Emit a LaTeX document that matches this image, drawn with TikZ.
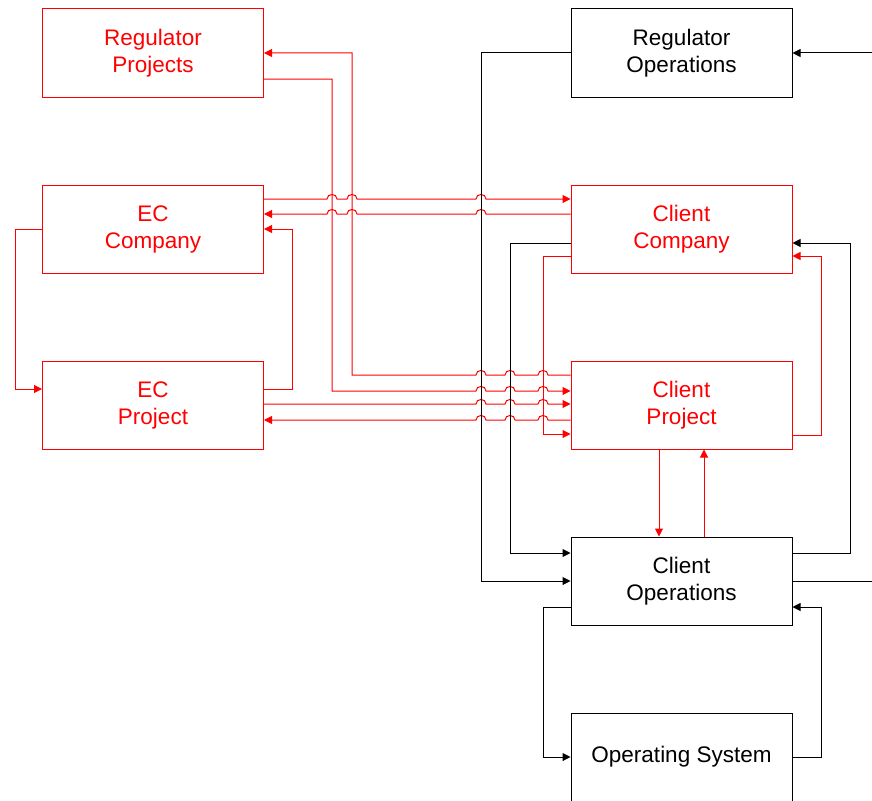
\documentclass[tikz,border=0pt]{standalone}
\usepackage{fontspec}
\setmainfont{Liberation Sans}
\usetikzlibrary{arrows.meta}
\definecolor{linkred}{RGB}{255,0,0}
% line jumps: a small arc over a crossing vertical line at x=#1, row y=#2
\newcommand\hopright[2]{-- (#1-5,#2) .. controls (#1-5,#2-6) and (#1+5,#2-6) .. (#1+5,#2)}
\newcommand\hopleft[2]{-- (#1+5,#2) .. controls (#1+5,#2-6) and (#1-5,#2-6) .. (#1-5,#2)}
\begin{document}
\begin{tikzpicture}[x=1pt,y=-1pt,
  box/.style={draw,line width=1pt,minimum width=221pt,minimum height=88pt,
    inner sep=0pt,align=center,font=\fontsize{22.5}{27}\selectfont},
  redbox/.style={box,draw=linkred,text=linkred},
  blackbox/.style={box,draw=black,text=black},
  wire/.style={line width=1pt},
  link/.style={wire,-{Triangle[length=8pt,width=8pt]}},
  redlink/.style={link,draw=linkred},
  blacklink/.style={link,draw=black}]
\useasboundingbox (0,0) rectangle (872,800);

% boxes
\node[redbox]   (rp) at (153,53)    {Regulator\\Projects};
\node[blackbox] (ro) at (681.5,53)  {Regulator\\Operations};
\node[redbox]   (ec) at (153,229)   {EC\\Company};
\node[redbox]   (cc) at (681.5,229) {Client\\Company};
\node[redbox]   (ep) at (153,405)   {EC\\Project};
\node[redbox]   (cp) at (681.5,405) {Client\\Project};
\node[blackbox] (co) at (681.5,581) {Client\\Operations};
\node[blackbox] (os) at (681.5,757) {Operating System};

\coordinate (outR) at (872,581);
\coordinate (inR)  at (872,53);

% red links
\draw[redlink] (cp.west |- 0,375) \hopleft{543}{375} \hopleft{510}{375} \hopleft{481}{375}
  -- (352,375) -- (352,53) -- (rp.east |- 0,53);
\draw[redlink] (rp.east |- 0,79) -- (332,79) -- (332,391)
  \hopright{481}{391} \hopright{510}{391} \hopright{543}{391} -- (cp.west |- 0,391);
\draw[redlink] (ec.east |- 0,199) \hopright{332}{199} \hopright{352}{199} \hopright{481}{199}
  -- (cc.west |- 0,199);
\draw[redlink] (cc.west |- 0,214) \hopleft{481}{214} \hopleft{352}{214} \hopleft{332}{214}
  -- (ec.east |- 0,214);
\draw[redlink] (ep.east |- 0,404) \hopright{481}{404} \hopright{510}{404} \hopright{543}{404}
  -- (cp.west |- 0,404);
\draw[redlink] (cp.west |- 0,420) \hopleft{543}{420} \hopleft{510}{420} \hopleft{481}{420}
  -- (ep.east |- 0,420);
\draw[redlink] (cc.west |- 0,256) -- (543,256) -- (543,434) -- (cp.west |- 0,434);
\draw[redlink] (ep.east |- 0,389) -- (292,389) -- (292,229) -- (ec.east |- 0,229);
\draw[redlink] (ec.west |- 0,229) -- (15,229) -- (15,389) -- (ep.west |- 0,389);
\draw[redlink] (cp.east |- 0,435) -- (821,435) -- (821,256) -- (cc.east |- 0,256);
\draw[redlink] (cp.south -| 659,0) -- (co.north -| 659,0);
\draw[redlink] (co.north -| 704,0) -- (cp.south -| 704,0);

% black links
\draw[blacklink] (ro.west |- 0,53) -- (481,53) -- (481,581) -- (co.west |- 0,581);
\draw[blacklink] (cc.west |- 0,243) -- (510,243) -- (510,553) -- (co.west |- 0,553);
\draw[blacklink] (co.east |- 0,553) -- (850,553) -- (850,243) -- (cc.east |- 0,243);
\draw[wire] (co.east |- 0,581) -- (outR);
\draw[blacklink] (inR) -- (ro.east |- 0,53);
\draw[blacklink] (co.west |- 0,607) -- (543,607) -- (543,757) -- (os.west |- 0,757);
\draw[blacklink] (os.east |- 0,757) -- (821,757) -- (821,607) -- (co.east |- 0,607);
\end{tikzpicture}
\end{document}
